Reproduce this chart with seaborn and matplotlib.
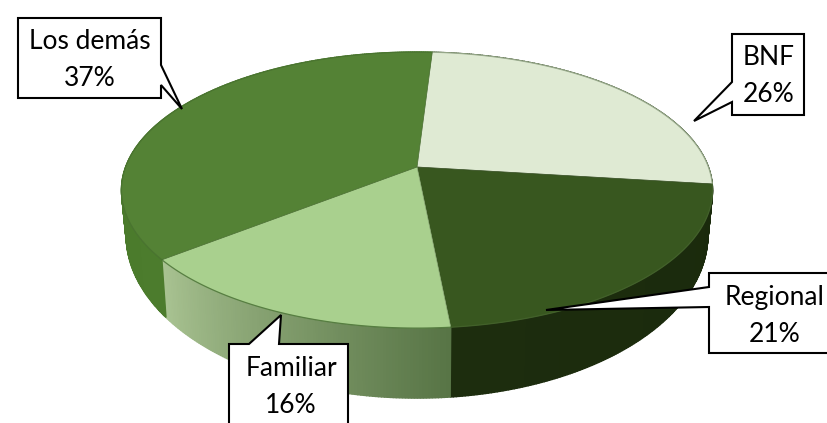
import numpy as np
import matplotlib
matplotlib.use("Agg")
import matplotlib.pyplot as plt
from matplotlib.path import Path
from matplotlib.patches import Polygon
from matplotlib.transforms import Transform
import seaborn as sns

labels = ["BNF", "Regional", "Familiar", "Los demás"]
values = [26, 21.49, 15.9, 36.61]
top_colors = ["#dfead3", "#38571f", "#a9d08e", "#548235"]
wall_colors = [("#2c431a", "#2c431a"), ("#1d2d0e", "#1a2a0c"),
               ("#a9c392", "#587546"), ("#4a7a2b", "#4f7f30")]
rim_colors = ["#8fa382", "#4a6b30", "#3f6a2a", "#4a7530"]

# callout layout in pixels: box, pointer, text centre
callouts = {
    "BNF": ((732, 34, 804, 115), [(732, 82), (694, 121), (732, 102)], (769, 76)),
    "Regional": ((709, 273, 840, 353), [(709, 287), (546, 310), (709, 307)], (775, 316)),
    "Familiar": ((229, 344, 348, 440), [(249, 344), (281, 315), (279, 344)], (291, 387)),
    "Los demás": ((18, 18, 161, 98), [(161, 65), (182, 109), (161, 85)], (90, 60)),
}

# perspective of the pie disc
CX, CY = 417, 167
RX, RY, K = 291.4, 134.2, 0.167
LOW_X, LOW_Y, LOW_D = 0.984, 1.18, 41


class Disc(Transform):
    input_dims = output_dims = 2

    def __init__(self, low=False):
        super().__init__()
        self.low = low

    def transform_non_affine(self, values):
        v = np.asarray(values, dtype=float)
        w = 1 + K * v[:, 1]
        x = RX * v[:, 0] / w
        y = -RY * v[:, 1] / w
        if self.low:
            return np.column_stack([CX + x * LOW_X, CY + LOW_D + y * LOW_Y])
        return np.column_stack([CX + x, CY + y])

    def transform_path_non_affine(self, path):
        # scale up first, otherwise the unit-sized curves flatten too coarsely
        big = Path(path.vertices * 1000, path.codes)
        poly = big.to_polygons(closed_only=False)[0] / 1000
        return Path(self.transform_non_affine(poly))


def arc(t1, t2, n):
    t = np.radians(np.linspace(t1, t2, n))
    return np.column_stack([np.cos(t), np.sin(t)])


sns.set_theme(style="white")
plt.rcParams["font.family"] = ["Lato", "DejaVu Sans"]

fig = plt.figure(figsize=(8.28, 4.23), dpi=100)
ax = fig.add_axes([0, 0, 1, 1])
wedges, _ = ax.pie(values, colors=top_colors, startangle=86.5, counterclock=False)
ax.set_aspect("auto")
ax.set_xlim(0, 828)
ax.set_ylim(423, 0)

top = Disc()
low = Disc(low=True)

# side walls as thin strips, so the gradient follows the rim, left to right
for w, (c1, c2) in zip(wedges, wall_colors):
    n = int(w.theta2 - w.theta1) * 2 + 2
    pts = arc(w.theta1, w.theta2, n)
    shades = sns.blend_palette([c1, c2], n - 1)
    a = top.transform_non_affine(pts)
    b = low.transform_non_affine(pts)
    for rank, i in enumerate(np.argsort(a[:-1, 0])):
        ax.fill([a[i, 0], a[i + 1, 0], b[i + 1, 0], b[i, 0]],
                [a[i, 1], a[i + 1, 1], b[i + 1, 1], b[i, 1]],
                color=shades[rank], lw=1, zorder=1)

# the disc itself, on top of the walls
for w, c in zip(wedges, top_colors):
    w.set_transform(top + ax.transData)
    w.set_zorder(2)
    w.set_edgecolor(sns.dark_palette(c, 6)[4])
    w.set_linewidth(0.5)

for w, c in zip(wedges, rim_colors):
    rim = top.transform_non_affine(arc(w.theta1, w.theta2, 120))
    ax.plot(rim[:, 0], rim[:, 1], color=c, lw=0.9, alpha=0.7, zorder=3)

# callouts
for name, val in zip(labels, values):
    (x0, y0, x1, y1), ptr, (tx, ty) = callouts[name]
    if name == "BNF" or name == "Regional":
        outline = [(x0, y0), (x1, y0), (x1, y1), (x0, y1), ptr[2], ptr[1], ptr[0]]
    elif name == "Familiar":
        outline = [(x0, y0), ptr[0], ptr[1], ptr[2], (x1, y0), (x1, y1), (x0, y1)]
    else:
        outline = [(x0, y0), (x1, y0), ptr[0], ptr[1], ptr[2], (x1, y1), (x0, y1)]
    ax.add_patch(Polygon(outline, closed=True, fc="white", ec="black", lw=1.5,
                         joinstyle="miter", zorder=5))
    ax.text(tx, ty, f"{name}\n{round(val)}%", ha="center", va="center", fontsize=19,
            color="black", linespacing=1.6, zorder=6)

ax.set_axis_off()
fig.savefig("out.png", dpi=100)
